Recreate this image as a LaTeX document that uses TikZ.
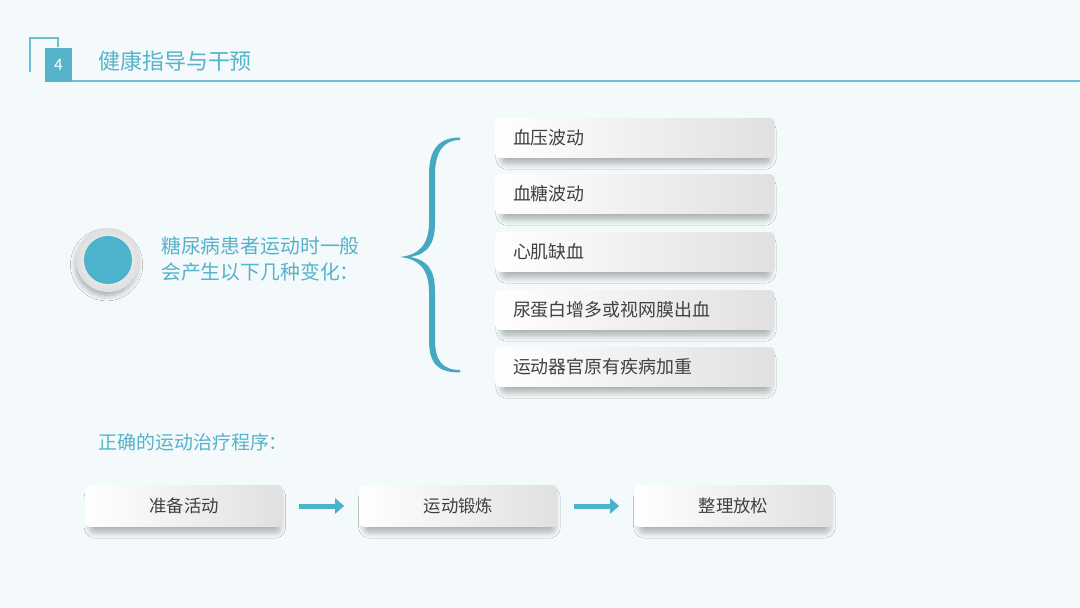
\documentclass[tikz,border=0pt]{standalone}
\usepackage{fontspec}
\setmainfont{Noto Sans CJK SC}
\usetikzlibrary{shadows.blur,arrows.meta,positioning}
\definecolor{bgcol}{HTML}{F4FAFB}
\definecolor{teal}{HTML}{55B3CA}
\definecolor{bracecol}{HTML}{45A9C0}
\definecolor{boxtext}{HTML}{404040}
\definecolor{arrowfill}{HTML}{4BB3CB}
\definecolor{linecol}{HTML}{6CC0D2}

\begin{document}
\begin{tikzpicture}[x=0.02cm, y=-0.02cm,
  softshadow/.style={blur shadow={shadow xshift=0.02cm, shadow yshift=-0.13cm,
      shadow opacity=30, shadow scale=0.96, shadow blur steps=10, shadow blur radius=0.12cm}},
  itembox/.style={rounded corners=0.1cm, left color=white, right color=gray!24, softshadow,
    minimum height=0.8cm, text width=4.88cm, inner xsep=0.36cm, align=left,
    font=\fontsize{10.2pt}{12pt}\selectfont, text=boxtext},
  stepbox/.style={rounded corners=0.1cm, left color=white, right color=gray!24, softshadow,
    minimum height=0.84cm, minimum width=3.96cm, align=center,
    font=\fontsize{9.9pt}{12pt}\selectfont, text=boxtext},
  flowarrow/.style={-{Triangle[length=0.18cm, width=0.3cm]}, line width=0.1cm,
    arrowfill, shorten <=0.32cm, shorten >=0.3cm},
]

% === BACKGROUND ===
\fill[bgcol] (0,0) rectangle (1080,608);
\useasboundingbox (0,0) rectangle (1080,608);

% === HEADER ===
\draw[linecol, line width=0.025cm] (30,72) -- (30,38) -- (58,38) -- (58,47);
\draw[linecol, line width=0.04cm] (45,81.5) -- (1080,81.5);
\node[fill=teal, minimum width=0.56cm, minimum height=0.7cm, inner sep=0pt,
  text=white, font=\fontsize{9pt}{10pt}\selectfont] (num) at (58.5,65) {4};
\node[anchor=west, text=teal, font=\fontsize{12.5pt}{14pt}\selectfont] (title) at (92,61) {健康指导与干预};

% === LEFT CIRCLE + QUESTION ===
\node[circle, minimum size=1.28cm, inner color=white, outer color=gray!26,
  blur shadow={shadow xshift=-0.03cm, shadow yshift=-0.1cm, shadow opacity=35,
    shadow scale=0.95, shadow blur steps=10, shadow blur radius=0.12cm}] (dot) at (108,260) {};
\node[circle, minimum size=0.96cm, fill=arrowfill] (dotin) at (dot) {};
\node[anchor=west, align=left, text=teal, font=\fontsize{11.3pt}{14.8pt}\selectfont] (quest) at (155,259)
  {糖尿病患者运动时一般\\会产生以下几种变化：};

% === BRACE ===
\fill[bracecol]
  (460,137.5) .. controls (438,137.5) and (429,150) .. (429,175) -- (429,222)
  .. controls (429,246) and (418,255) .. (400,257)
  .. controls (418,259) and (429,268) .. (429,292) -- (429,340)
  .. controls (429,364) and (438,372.5) .. (460,372.5)
  -- (460,370) .. controls (442,370) and (435,360) .. (435,340) -- (435,292)
  .. controls (435,270) and (428,260) .. (410,257)
  .. controls (428,254) and (435,244) .. (435,222) -- (435,175)
  .. controls (435,154) and (442,140) .. (460,140) -- cycle;

% === CHANGES ===
\node[itembox] (bp)    at (635,138) {血压波动};
\node[itembox] (bg)    at (635,194) {血糖波动};
\node[itembox] (heart) at (635,252) {心肌缺血};
\node[itembox] (eye)   at (635,310) {尿蛋白增多或视网膜出血};
\node[itembox] (organ) at (635,367) {运动器官原有疾病加重};

% === EXERCISE PROGRAM ===
\node[anchor=west, text=teal, font=\fontsize{10.8pt}{12pt}\selectfont] (prog) at (92,442) {正确的运动治疗程序：};
\node[stepbox] (prep) at (184,506) {准备活动};
\node[stepbox] (exer) at (458.5,506) {运动锻炼};
\node[stepbox] (relax) at (733.5,506) {整理放松};
\draw[flowarrow] (prep) -- (exer);
\draw[flowarrow] (exer) -- (relax);
\end{tikzpicture}
\end{document}
